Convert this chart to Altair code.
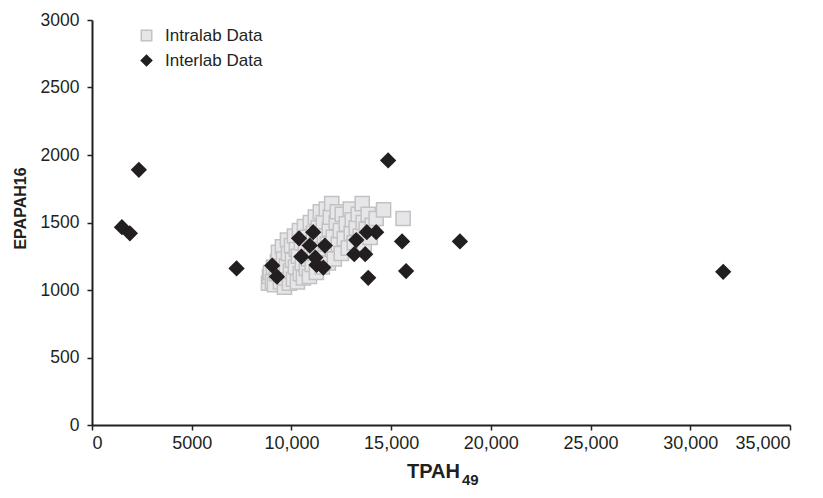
import altair as alt
import pandas as pd

# Interlab data (black diamonds)
inter_x = [2350, 1500, 1900, 7250, 14850, 15550, 18450, 15750, 31650, 13850,
           13700, 13250, 13780, 14250, 13150, 10380, 11090, 10920, 11680, 10500,
           11200, 11260, 11600, 9040, 9275]
inter_y = [1890, 1465, 1420, 1160, 1960, 1360, 1360, 1140, 1135, 1090,
           1265, 1370, 1428, 1428, 1265, 1383, 1428, 1329, 1329, 1247,
           1240, 1186, 1166, 1181, 1099]

# Intralab data (grey squares)
intra_x = [8850, 8900, 8950, 9050, 9100, 9150, 9250, 9300, 9350, 9450,
           9500, 9550, 9600, 9650, 9700, 9750, 9800, 9850, 9900, 9950,
           10000, 10050, 10100, 10150, 10200, 10250, 10300, 10350, 10400, 10450,
           10500, 10550, 10600, 10650, 10700, 10750, 10800, 10850, 10900, 10950,
           11000, 11050, 11100, 11150, 11200, 11250, 11300, 11350, 11400, 11450,
           11500, 11550, 11600, 11650, 11700, 11750, 11800, 11850, 11900, 11950,
           12020, 12050, 12100, 12150, 12250, 12300, 12350, 12450, 12500, 12550,
           12650, 12750, 12850, 12950, 13000, 13050, 13150, 13250, 13350, 13450,
           13550, 13600, 13650, 13750, 13850, 13950, 14050, 14250, 14620, 15600]
intra_y = [1050, 1100, 1130, 1060, 1170, 1040, 1120, 1210, 1280, 1060,
           1150, 1320, 1230, 1020, 1090, 1180, 1370, 1270, 1050, 1140,
           1330, 1220, 1080, 1400, 1170, 1300, 1060, 1250, 1440, 1120,
           1350, 1200, 1090, 1470, 1280, 1160, 1390, 1230, 1100, 1500,
           1330, 1190, 1420, 1270, 1540, 1130, 1360, 1460, 1220, 1580,
           1300, 1170, 1500, 1400, 1260, 1600, 1340, 1200, 1450, 1540,
           1640, 1300, 1390, 1230, 1500, 1580, 1340, 1440, 1270, 1560,
           1380, 1490, 1310, 1600, 1420, 1520, 1350, 1460, 1560, 1400,
           1640, 1500, 1340, 1450, 1560, 1390, 1480, 1530, 1593, 1530]

series_names = ["Intralab Data", "Interlab Data"]
x_title_main = "TPAH"
x_title_sub = "49"
y_title = "EPAPAH16"

df = pd.concat([
    pd.DataFrame({"x": intra_x, "y": intra_y, "series": series_names[0]}),
    pd.DataFrame({"x": inter_x, "y": inter_y, "series": series_names[1]}),
], ignore_index=True)
df["order"] = range(len(df))

x_ticks = [0, 5000, 10000, 15000, 20000, 25000, 30000, 35000]
y_ticks = [0, 500, 1000, 1500, 2000, 2500, 3000]

FONT = "Liberation Sans"
INK = "#231f20"

points = alt.Chart(df).mark_point(filled=True, opacity=1, strokeWidth=1.5, size=200).encode(
    x=alt.X("x:Q", scale=alt.Scale(domain=[0, 35000], nice=False),
            axis=alt.Axis(values=x_ticks, title=None,
                          labelExpr="datum.value < 10000 ? format(datum.value, 'd') : format(datum.value, ',')")),
    y=alt.Y("y:Q", scale=alt.Scale(domain=[0, 3000], nice=False),
            axis=alt.Axis(values=y_ticks, format="d", title=y_title,
                          titleX=-72, titleY=188, titleAngle=270,
                          titleAlign="center", titleBaseline="middle")),
    shape=alt.Shape("series:N", scale=alt.Scale(domain=series_names, range=["square", "diamond"]),
                    legend=alt.Legend(title=None, orient="none", legendX=46, legendY=7,
                                      symbolSize=110, labelFontSize=17, labelFont=FONT,
                                      labelColor=INK, rowPadding=7, labelOffset=10)),
    fill=alt.Fill("series:N", scale=alt.Scale(domain=series_names, range=["#e6e6e8", INK])),
    stroke=alt.Stroke("series:N", scale=alt.Scale(domain=series_names, range=["#c2c2c4", INK])),
    order=alt.Order("order:Q"),
)

title_main = alt.Chart(pd.DataFrame({"t": [x_title_main]})).mark_text(
    font=FONT, fontSize=20, fontWeight="bold", color=INK, align="left", baseline="alphabetic"
).encode(text="t:N", x=alt.value(315), y=alt.value(458))

title_sub = alt.Chart(pd.DataFrame({"t": [x_title_sub]})).mark_text(
    font=FONT, fontSize=15, fontWeight="bold", color=INK, align="left", baseline="alphabetic"
).encode(text="t:N", x=alt.value(370), y=alt.value(465))

chart = alt.layer(points, title_main, title_sub).properties(
    width=698, height=405,
    autosize=alt.AutoSizeParams(type="none"),
    padding={"left": 92, "top": 20, "right": 33, "bottom": 73},
    background="white",
).configure_view(
    strokeWidth=0
).configure_axis(
    grid=False,
    domainColor=INK, domainWidth=2,
    tickColor=INK, tickWidth=1.5, tickSize=5,
    labelFont=FONT, labelFontSize=17.5, labelColor=INK, labelPadding=8,
    titleFont=FONT, titleFontSize=16, titleFontWeight="bold", titleColor=INK,
).configure_axisX(
    labelFontSize=18, labelPadding=4
)

chart.save("out.html", embed_options={"renderer": "svg", "actions": False})
